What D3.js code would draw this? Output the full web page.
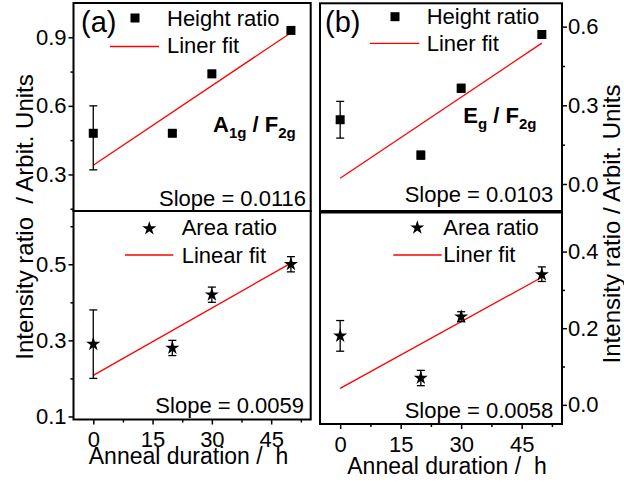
<!DOCTYPE html>
<meta charset="utf-8">
<style>
	body { margin: 0; background: #fff; }
	svg { display: block; font-family: "Liberation Sans", Arial, sans-serif; }
	text { white-space: pre; }
	.frame { fill: none; stroke: #000; stroke-width: 2; }
	.axis path { display: none; }
	.axis line { stroke: #000; stroke-width: 1.5; }
	.axis text { font-size: 22px; fill: #000; font-family: "Liberation Sans", Arial, sans-serif; }
	.fit { stroke: #f00; stroke-width: 1.3; }
	.err { stroke: #000; stroke-width: 1.3; fill: none; }
</style>

<div class="chart"></div>

<script src="https://d3js.org/d3.v7.min.js"></script>

<script>
	var hours = [0, 20, 30, 50];
	var xTicks = [0, 15, 30, 45];
	var xMinor = [7.5, 22.5, 37.5, 52.5];

	// (a) A1g / F2g, height ratio
	var aHeight = [0.48, 0.48, 0.74, 0.93];
	var aHeightLo = [0.32, 0.47, 0.725, 0.92];
	var aHeightHi = [0.60, 0.49, 0.755, 0.94];
	var aHeightFit = { intercept: 0.34, slope: 0.0116 };

	// (a) area ratio
	var aArea = [0.29, 0.28, 0.42, 0.50];
	var aAreaLo = [0.20, 0.26, 0.40, 0.48];
	var aAreaHi = [0.38, 0.30, 0.44, 0.52];
	var aAreaFit = { intercept: 0.208, slope: 0.0059 };

	// (b) Eg / F2g, height ratio
	var bHeight = [0.245, 0.11, 0.365, 0.57];
	var bHeightLo = [0.175, 0.095, 0.35, 0.558];
	var bHeightHi = [0.315, 0.125, 0.38, 0.582];
	var bHeightFit = { intercept: 0.022, slope: 0.0103 };

	// (b) area ratio
	var bArea = [0.18, 0.07, 0.23, 0.34];
	var bAreaLo = [0.14, 0.05, 0.217, 0.322];
	var bAreaHi = [0.22, 0.09, 0.243, 0.36];
	var bAreaFit = { intercept: 0.043, slope: 0.0058 };

	var svg = d3.select(".chart").append("svg")
			.attr("width", 624)
			.attr("height", 482);

	function panel(p) {
		var x = d3.scaleLinear().domain([-5, 55]).range([p.left, p.right]);
		var y = d3.scaleLinear().domain(p.yDomain).range([p.bottom, p.top]);
		var g = svg.append("g");
		var left = p.side === "left";

		var yAxis = (left ? d3.axisLeft(y) : d3.axisRight(y))
				.tickValues(p.yTicks).tickSize(5).tickPadding(left ? 2 : 1)
				.tickFormat(d3.format(".1f"));
		var yMinor = (left ? d3.axisLeft(y) : d3.axisRight(y))
				.tickValues(p.yMinor).tickSize(3).tickFormat("");
		var ax = left ? p.left : p.right;
		g.append("g").attr("class", "axis").attr("transform", "translate(" + ax + ",0)").call(yAxis);
		g.append("g").attr("class", "axis").attr("transform", "translate(" + ax + ",0)").call(yMinor);

		if (p.xAxis) {
			g.append("g").attr("class", "axis")
				.attr("transform", "translate(0," + p.bottom + ")")
				.call(d3.axisBottom(x).tickValues(xTicks).tickSize(5).tickPadding(7));
			g.append("g").attr("class", "axis")
				.attr("transform", "translate(0," + p.bottom + ")")
				.call(d3.axisBottom(x).tickValues(xMinor).tickSize(3).tickFormat(""));
		}

		// linear fit
		g.append("line").attr("class", "fit")
			.attr("x1", x(hours[0])).attr("y1", y(p.fit.intercept + p.fit.slope * hours[0]))
			.attr("x2", x(hours[3])).attr("y2", y(p.fit.intercept + p.fit.slope * hours[3]));

		// error bars
		var pts = hours.map(function(h, i) {
			return { h: h, v: p.values[i], lo: p.lo[i], hi: p.hi[i] };
		});
		var eb = g.selectAll(".eb").data(pts).enter().append("g");
		eb.append("line").attr("class", "err")
			.attr("x1", function(d) { return x(d.h); }).attr("x2", function(d) { return x(d.h); })
			.attr("y1", function(d) { return y(d.lo); }).attr("y2", function(d) { return y(d.hi); });
		eb.append("line").attr("class", "err")
			.attr("x1", function(d) { return x(d.h) - 4; }).attr("x2", function(d) { return x(d.h) + 4; })
			.attr("y1", function(d) { return y(d.lo); }).attr("y2", function(d) { return y(d.lo); });
		eb.append("line").attr("class", "err")
			.attr("x1", function(d) { return x(d.h) - 4; }).attr("x2", function(d) { return x(d.h) + 4; })
			.attr("y1", function(d) { return y(d.hi); }).attr("y2", function(d) { return y(d.hi); });

		var sym = p.star ? d3.symbol().type(d3.symbolStar).size(62) : d3.symbol().type(d3.symbolSquare).size(81);
		g.selectAll(".pt").data(pts).enter().append("path")
			.attr("d", sym)
			.attr("transform", function(d) { return "translate(" + x(d.h) + "," + y(d.v) + ")"; })
			.attr("fill", "#000");

		g.append("rect").attr("class", "frame")
			.attr("x", p.left).attr("y", p.top)
			.attr("width", p.right - p.left).attr("height", p.bottom - p.top);

		// legend
		var lg = p.legend;
		g.append("path").attr("d", sym).attr("fill", "#000")
			.attr("transform", "translate(" + lg.mx + "," + lg.my + ")");
		g.append("text").attr("x", lg.tx).attr("y", lg.y1).attr("font-size", 22).text(p.name);
		g.append("line").attr("class", "fit")
			.attr("x1", lg.lx1).attr("x2", lg.lx2).attr("y1", lg.ly).attr("y2", lg.ly);
		g.append("text").attr("x", lg.tx).attr("y", lg.y2).attr("font-size", 22).text(p.fitName);

		g.append("text").attr("x", p.slopeX).attr("y", p.slopeY)
			.attr("text-anchor", "end").attr("font-size", 22)
			.text("Slope = " + d3.format(".4f")(p.fit.slope));
	}

	panel({ left: 73.5, right: 310.7, top: 3, bottom: 211, side: "left",
		yDomain: [0.14, 1.05], yTicks: [0.3, 0.6, 0.9], yMinor: [0.15, 0.45, 0.75],
		values: aHeight, lo: aHeightLo, hi: aHeightHi, fit: aHeightFit,
		name: "Height ratio", fitName: "Liner fit",
		legend: { mx: 135, my: 18, tx: 167, y1: 26, y2: 53, lx1: 110, lx2: 159, ly: 46.5 },
		slopeX: 306, slopeY: 205.5 });

	panel({ left: 73.5, right: 310.7, top: 211, bottom: 419.5, side: "left", xAxis: true, star: true,
		yDomain: [0.092, 0.64], yTicks: [0.1, 0.3, 0.5], yMinor: [0.2, 0.4, 0.6],
		values: aArea, lo: aAreaLo, hi: aAreaHi, fit: aAreaFit,
		name: "Area ratio", fitName: "Linear fit",
		legend: { mx: 149.3, my: 228.5, tx: 181.7, y1: 235, y2: 262.5, lx1: 125, lx2: 173.3, ly: 255 },
		slopeX: 304, slopeY: 413.3 });

	panel({ left: 320, right: 562, top: 3.3, bottom: 211, side: "right",
		yDomain: [-0.103, 0.689], yTicks: [0, 0.3, 0.6], yMinor: [0.15, 0.45],
		values: bHeight, lo: bHeightLo, hi: bHeightHi, fit: bHeightFit,
		name: "Height ratio", fitName: "Liner fit",
		legend: { mx: 395, my: 16.7, tx: 426.7, y1: 24, y2: 50.7, lx1: 370, lx2: 419.3, ly: 43.3 },
		slopeX: 553.3, slopeY: 202 });

	panel({ left: 320, right: 562, top: 212.5, bottom: 424, side: "right", xAxis: true, star: true,
		yDomain: [-0.05, 0.502], yTicks: [0, 0.2, 0.4], yMinor: [0.1, 0.3],
		values: bArea, lo: bAreaLo, hi: bAreaHi, fit: bAreaFit,
		name: "Area ratio", fitName: "Liner fit",
		legend: { mx: 417.3, my: 227.7, tx: 443.3, y1: 235, y2: 262.3, lx1: 393.3, lx2: 441.7, ly: 255 },
		slopeX: 553.3, slopeY: 418.3 });

	// panel letters
	svg.append("text").attr("x", 81).attr("y", 32).attr("font-size", 29).text("(a)");
	svg.append("text").attr("x", 325).attr("y", 32).attr("font-size", 29).text("(b)");

	// peak ratio labels
	var lab1 = svg.append("text").attr("x", 213).attr("y", 131.7)
			.attr("font-size", 22).attr("font-weight", "bold");
	lab1.append("tspan").text("A");
	lab1.append("tspan").attr("font-size", 15).attr("dy", 6).text("1g");
	lab1.append("tspan").attr("dy", -6).text(" / F");
	lab1.append("tspan").attr("font-size", 15).attr("dy", 6).text("2g");

	var lab2 = svg.append("text").attr("x", 463.3).attr("y", 123.3)
			.attr("font-size", 22).attr("font-weight", "bold");
	lab2.append("tspan").text("E");
	lab2.append("tspan").attr("font-size", 15).attr("dy", 6).text("g");
	lab2.append("tspan").attr("dy", -6).text(" / F");
	lab2.append("tspan").attr("font-size", 15).attr("dy", 6).text("2g");

	// axis titles
	svg.append("text").attr("text-anchor", "middle").attr("font-size", 24)
		.attr("transform", "translate(33,217) rotate(-90)").text("Intensity ratio  / Arbit. Units");
	svg.append("text").attr("text-anchor", "middle").attr("font-size", 24)
		.attr("transform", "translate(620,224) rotate(-90)").text("Intensity ratio / Arbit. Units");
	svg.append("text").attr("text-anchor", "middle").attr("font-size", 23)
		.attr("x", 188.5).attr("y", 464).text("Anneal duration /  h");
	svg.append("text").attr("text-anchor", "middle").attr("font-size", 23)
		.attr("x", 447).attr("y", 474).text("Anneal duration /  h");
</script>
